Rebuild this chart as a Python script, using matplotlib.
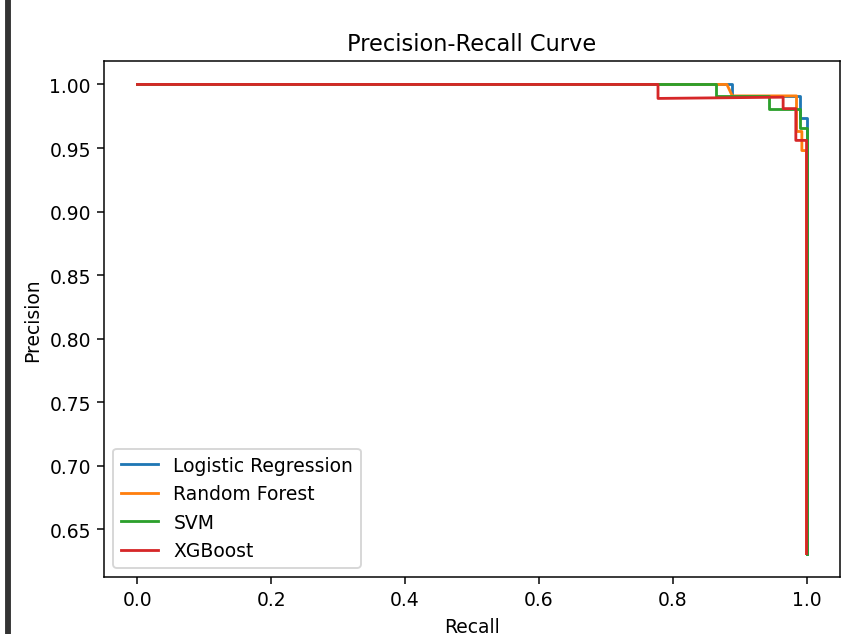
import matplotlib
matplotlib.use("Agg")
import matplotlib.pyplot as plt
from matplotlib.patches import Rectangle

# precision-recall points
lr_recall = [0.0, 0.889, 0.889, 0.990, 0.990, 1.0, 1.0]
lr_precision = [1.0, 1.0, 0.991, 0.991, 0.974, 0.974, 0.631]

rf_recall = [0.0, 0.881, 0.889, 0.985, 0.985, 0.993, 0.993, 1.0, 1.0]
rf_precision = [1.0, 1.0, 0.991, 0.991, 0.963, 0.963, 0.948, 0.948, 0.631]

svm_recall = [0.0, 0.864, 0.864, 0.944, 0.944, 0.990, 0.990, 1.0, 1.0]
svm_precision = [1.0, 1.0, 0.991, 0.991, 0.981, 0.981, 0.966, 0.966, 0.631]

xgb_recall = [0.0, 0.778, 0.778, 0.965, 0.965, 0.984, 0.984, 1.0, 1.0]
xgb_precision = [1.0, 1.0, 0.989, 0.990, 0.981, 0.981, 0.956, 0.956, 0.631]

models = ["Logistic Regression", "Random Forest", "SVM", "XGBoost"]
curves = [(lr_recall, lr_precision), (rf_recall, rf_precision),
          (svm_recall, svm_precision), (xgb_recall, xgb_precision)]

dpi = 135
fig = plt.figure(figsize=(845 / dpi, 635 / dpi), dpi=dpi)
ax = fig.add_axes([104 / 845, 1 - 578 / 635, 736 / 845, 516 / 635])

for name, (r, p) in zip(models, curves):
    ax.plot(r, p, label=name)

ax.set_title("Precision-Recall Curve")
ax.set_xlabel("Recall")
ax.set_ylabel("Precision")
ax.legend(loc="lower left")

# dark cell marker on the left edge of the screenshot
fig.patches.append(Rectangle((6 / 845, 0), 4 / 845, 1, transform=fig.transFigure,
                             color="#333333", zorder=5))

fig.savefig("out.png", dpi=dpi)
